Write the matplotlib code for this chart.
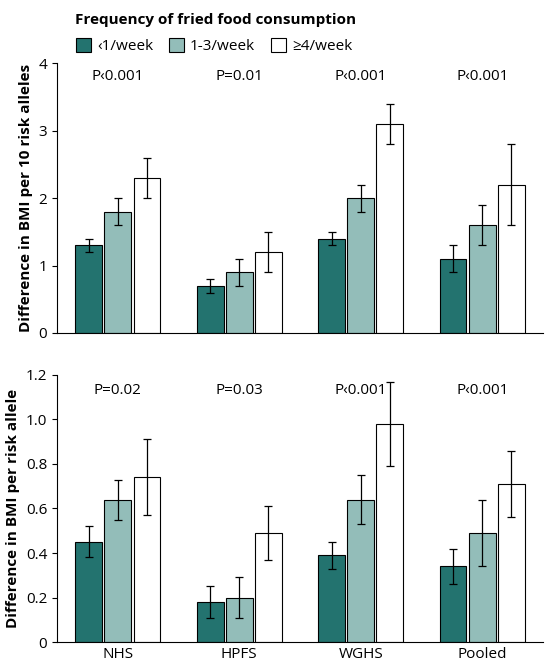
import numpy as np
import matplotlib.pyplot as plt

studies = ['NHS', 'HPFS', 'WGHS', 'Pooled']
series = ['\u20391/week', '1-3/week', '\u22654/week']
colors = ['#23736f', '#93bdb9', 'white']

top_vals = [[1.3, 0.7, 1.4, 1.1], [1.8, 0.9, 2.0, 1.6], [2.3, 1.2, 3.1, 2.2]]
top_err = [[0.1, 0.1, 0.1, 0.2], [0.2, 0.2, 0.2, 0.3], [0.3, 0.3, 0.3, 0.6]]
top_p = ['P\u20390.001', 'P=0.01', 'P\u20390.001', 'P\u20390.001']

bot_vals = [[0.45, 0.18, 0.39, 0.34], [0.64, 0.20, 0.64, 0.49], [0.74, 0.49, 0.98, 0.71]]
bot_err = [[0.07, 0.07, 0.06, 0.08], [0.09, 0.09, 0.11, 0.15], [0.17, 0.12, 0.19, 0.15]]
bot_p = ['P=0.02', 'P=0.03', 'P\u20390.001', 'P\u20390.001']

plt.rcParams['font.family'] = ['Open Sans', 'DejaVu Sans']
fig = plt.figure(figsize=(5.54, 6.66), dpi=100)
ax1 = fig.add_axes([0.103, 0.5, 0.877, 0.405])
ax2 = fig.add_axes([0.103, 0.036, 0.877, 0.401])

x = np.arange(len(studies))
w = 0.24

def draw(ax, vals, errs, ps, ymax, ticks, labels, ylabel, ptxt_y):
    for i in range(3):
        ax.bar(x + (i - 1) * w, vals[i], w * 0.92, color=colors[i], edgecolor='black', linewidth=0.8,
               yerr=errs[i], error_kw=dict(ecolor='black', elinewidth=0.9, capsize=3, capthick=0.9),
               label=series[i])
    for j, p in enumerate(ps):
        ax.text(x[j], ptxt_y, p, ha='center', va='center', fontsize=11)
    ax.set_xlim(-0.5, 3.5)
    ax.set_ylim(0, ymax)
    ax.set_yticks(ticks)
    ax.set_yticklabels(labels, fontsize=11)
    ax.set_ylabel(ylabel, fontsize=11, fontweight='bold')
    ax.spines['top'].set_visible(False)
    ax.spines['right'].set_visible(False)
    ax.tick_params(axis='x', length=0)

draw(ax1, top_vals, top_err, top_p, 4, [0, 1, 2, 3, 4], ['0', '1', '2', '3', '4'],
     'Difference in BMI per 10 risk alleles', 3.8)
ax1.set_xticks([])
draw(ax2, bot_vals, bot_err, bot_p, 1.2, np.arange(0, 1.21, 0.2),
     ['0', '0.2', '0.4', '0.6', '0.8', '1.0', '1.2'], 'Difference in BMI per risk allele', 1.13)
ax2.set_xticks(x)
ax2.set_xticklabels(studies, fontsize=11)

fig.text(0.135, 0.97, 'Frequency of fried food consumption', fontsize=11, fontweight='bold', va='center')
ax1.legend(loc='lower left', bbox_to_anchor=(0.02, 1.0), ncol=3, frameon=False, fontsize=11,
           handlelength=1.0, handleheight=1.0, columnspacing=1.0, handletextpad=0.4, borderpad=0.1)

fig.savefig('out.png', dpi=100)
